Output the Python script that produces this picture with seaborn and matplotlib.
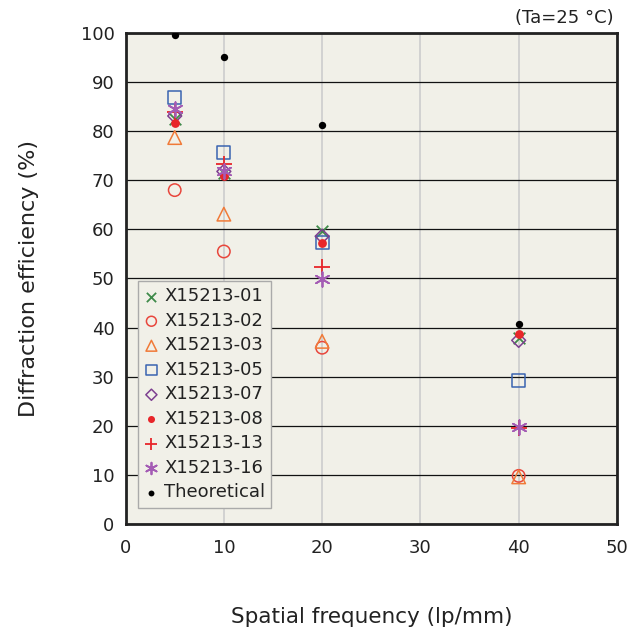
import pandas as pd
import matplotlib.pyplot as plt
import seaborn as sns

# data
freq = [5, 10, 20, 40]
x15213_01 = [82.4, 71.4, 59.7, 37.8]
x15213_02 = [68.0, 55.5, 35.9, 9.8]
x15213_03 = [78.7, 63.1, 37.2, 9.6]
x15213_05 = [86.9, 75.7, 57.4, 29.2]
x15213_07 = [83.1, 71.8, 58.6, 37.4]
x15213_08 = [81.6, 70.9, 57.3, 38.6]
x15213_13 = [83.9, 73.3, 52.4, 19.5]
x15213_16 = [84.5, 71.8, 49.8, 19.7]
theoretical = [99.6, 95.2, 81.3, 40.8]

sns.set_theme(style="white")
plt.rcParams['font.family'] = ['DejaVu Sans']

fig = plt.figure(figsize=(6.44, 6.34), dpi=100)
ax = fig.add_axes([0.195, 0.1735, 0.763, 0.7745])
ax.set_facecolor('#f1f0e8')

# (label, values, marker, colour, open marker?, size)
series = [
    ("X15213-01", x15213_01, 'x', '#3f8a4a', False, 70),
    ("X15213-02", x15213_02, 'o', '#e8463c', True, 80),
    ("X15213-03", x15213_03, '^', '#f07a38', True, 95),
    ("X15213-05", x15213_05, 's', '#3a64b0', True, 85),
    ("X15213-07", x15213_07, 'D', '#7d3f90', True, 50),
    ("X15213-08", x15213_08, 'o', '#e8262a', False, 40),
    ("X15213-13", x15213_13, '+', '#e8262a', False, 120),
    ("X15213-16", x15213_16, (6, 2, 0), '#a45cb4', False, 110),
    ("Theoretical", theoretical, 'o', '#000000', False, 28),
]

for label, vals, mk, col, hollow, sz in series:
    df = pd.DataFrame({'f': freq, 'eff': vals})
    if hollow:
        sns.scatterplot(data=df, x='f', y='eff', marker=mk, s=sz, ax=ax,
                        facecolor='none', edgecolor=col, linewidth=1.1,
                        label=label, zorder=3)
    elif mk in ('x', '+') or isinstance(mk, tuple):
        sns.scatterplot(data=df, x='f', y='eff', marker=mk, s=sz, ax=ax,
                        color=col, linewidth=1.3, label=label, zorder=3)
    else:
        sns.scatterplot(data=df, x='f', y='eff', marker=mk, s=sz, ax=ax,
                        color=col, edgecolor=col, linewidth=0, label=label, zorder=3)

ax.set_xlim(0, 50)
ax.set_ylim(0, 100)
ax.set_xticks(range(0, 51, 10))
ax.set_yticks(range(0, 101, 10))
ax.grid(axis='y', color='#111111', linewidth=0.9)
ax.grid(axis='x', color='#cfcfcf', linewidth=1.3)
ax.set_axisbelow(True)
for sp in ax.spines.values():
    sp.set_color('#222222')
    sp.set_linewidth(2.0)
ax.tick_params(axis='both', labelsize=13, colors='#222222', length=0)
ax.tick_params(axis='x', pad=11)
ax.tick_params(axis='y', pad=8)

ax.set_xlabel("Spatial frequency (lp/mm)", fontsize=15.5, color='#222222', labelpad=36)
ax.set_ylabel("Diffraction efficiency (%)", fontsize=16, color='#222222', labelpad=30)
fig.text(0.953, 0.972, "(Ta=25 °C)", fontsize=13, color='#222222', ha='right', va='center')

leg = ax.legend(loc='lower left', bbox_to_anchor=(0.025, 0.033), fontsize=13,
                frameon=True, fancybox=False, framealpha=1, facecolor='#f1f0e8',
                edgecolor='#aaaaaa', handlelength=0.8, handletextpad=0.3,
                labelspacing=0.36, borderpad=0.35, borderaxespad=0, markerscale=0.8)
for t in leg.get_texts():
    t.set_color('#222222')

fig.savefig("out.png", dpi=100)
